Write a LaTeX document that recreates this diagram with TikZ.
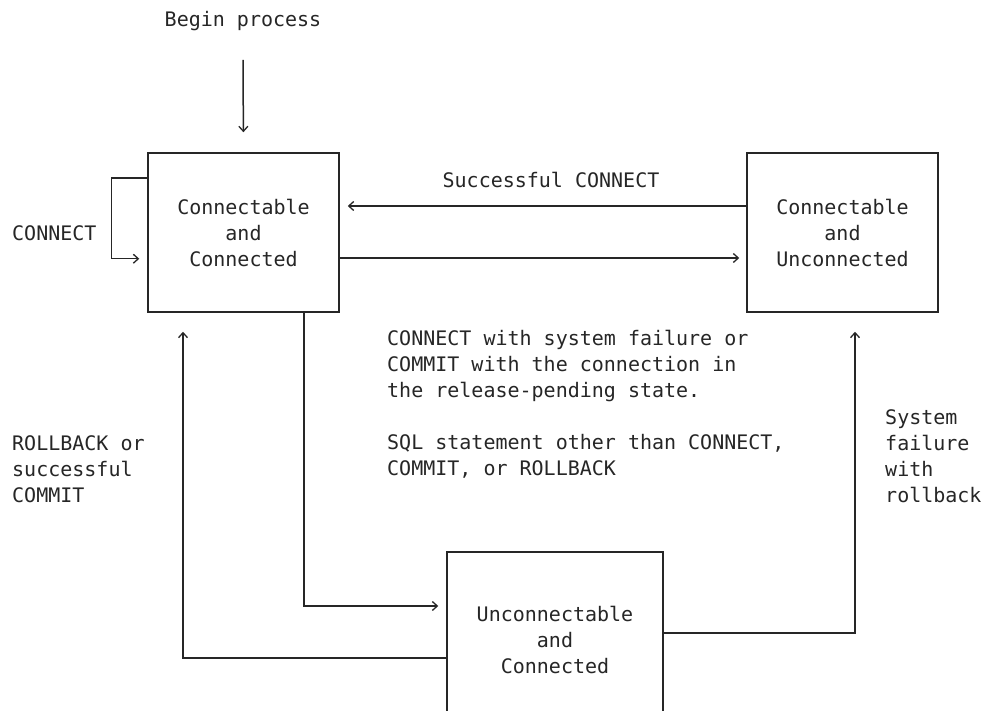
\documentclass[tikz,border=0pt]{standalone}
\usepackage{fontspec}
\setmonofont{DejaVu Sans Mono}
\usetikzlibrary{arrows.meta}
\tikzset{
  every node/.style={font=\ttfamily\fontsize{20}{26}\selectfont, text=black!85},
  statebox/.style={draw=black!85, line width=1.5pt, inner sep=0pt, align=center},
  conn/.style={draw=black!85, line width=1.5pt, -{Straight Barb[length=5pt,width=9pt,line width=1.3pt]}},
  lbl/.style={align=left, inner sep=0pt}
}
\begin{document}
\begin{tikzpicture}[x=1pt,y=-1pt]
\clip (0,0) rectangle (982,711);
\fill[white] (0,0) rectangle (982,711);

\node[statebox, minimum width=191pt, minimum height=159pt] (A) at (243.5,232.5) {Connectable\\and\\Connected};
\node[statebox, minimum width=191pt, minimum height=159pt] (B) at (842.5,232.5) {Connectable\\and\\Unconnected};
\node[statebox, minimum width=216pt, minimum height=176pt] (C) at (555,640) {Unconnectable\\and\\Connected};

\node[inner sep=0pt] (begin) at (243,21) {Begin process};
\coordinate (bstart) at (243,60);
\draw[conn, shorten >=20pt] (bstart) -- (A.north);

\node[inner sep=0pt] (succ) at (551,180) {Successful CONNECT};
\node[lbl, anchor=west] (conlbl) at (12,233) {CONNECT};
\node[lbl, anchor=west] (mid) at (387,404) {CONNECT with system failure or\\COMMIT with the connection in\\the release-pending state.\\[26pt]SQL statement other than CONNECT,\\COMMIT, or ROLLBACK};
\node[lbl, anchor=west] (rb) at (12,469) {ROLLBACK or\\successful\\COMMIT};
\node[lbl, anchor=west] (sf) at (885,456) {System\\failure\\with\\rollback};

% self loop on A
\draw[conn, shorten >=8pt] ([yshift=-26pt]A.north west) -- ++(-36,0) |- ([yshift=54pt]A.south west);
% B -> A
\draw[conn, shorten >=8pt] ([yshift=26.5pt]B.west) -- ([yshift=26.5pt]A.east);
% A -> B
\draw[conn, shorten >=7pt] ([yshift=-25.5pt]A.east) -- ([yshift=-25.5pt]B.west);
% A -> C
\draw[conn, shorten >=8pt] ([xshift=60.5pt]A.south) |- ([yshift=34pt]C.west);
% C -> A
\draw[conn, shorten >=19pt] ([yshift=-18pt]C.west) -| ([xshift=-60.5pt]A.south);
% C -> B
\draw[conn, shorten >=19pt] ([yshift=7pt]C.east) -| ([xshift=12.5pt]B.south);
\end{tikzpicture}
\end{document}
